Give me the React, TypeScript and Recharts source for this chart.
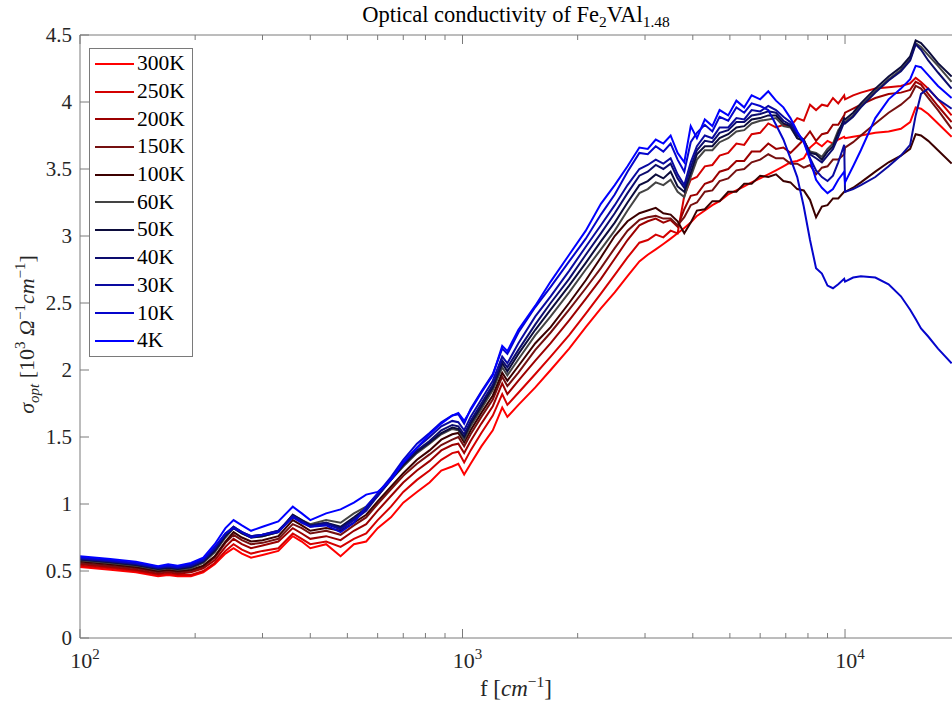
import React from 'react';
import { LineChart, Line, XAxis, YAxis, Legend } from 'recharts';

// wavenumber grid (cm^-1), shared by every temperature
const freqs = [
  100, 120, 140, 160, 170, 180, 195, 210, 225, 240,
  252, 265, 280, 300, 330, 360, 380, 400, 440, 480,
  520, 560, 600, 650, 700, 760, 820, 880, 940, 975,
  1010, 1050, 1120, 1200, 1270, 1310, 1400, 1550, 1700, 1900,
  2100, 2300, 2500, 2700, 2900,
  3050, 3200, 3350, 3500, 3650, 3800, 3950, 4100, 4300, 4500,
  4700, 4950, 5200, 5450, 5700, 6000, 6300, 6600, 6900, 7200,
  7500, 7800, 8100, 8400, 8700, 9000, 9300, 9600, 9950,
  10000, 10500, 11000, 12000, 13000, 14000, 14800, 15300, 15800, 16500, 17500, 19000,
];

// sigma_opt in 10^3 Ohm^-1 cm^-1
const t300K = [
  0.53, 0.51, 0.49, 0.46, 0.47, 0.46, 0.46, 0.49, 0.55, 0.63,
  0.67, 0.63, 0.60, 0.62, 0.65, 0.76, 0.72, 0.67, 0.70, 0.61,
  0.70, 0.72, 0.82, 0.90, 1.01, 1.09, 1.16, 1.25, 1.28, 1.30,
  1.22, 1.30, 1.43, 1.55, 1.72, 1.65, 1.74, 1.87, 2.00, 2.16,
  2.32, 2.46, 2.58, 2.70, 2.81,
  2.86, 2.90, 2.94, 2.98, 3.02, 3.06, 3.10, 3.15, 3.19, 3.23,
  3.26, 3.31, 3.34, 3.37, 3.40, 3.43, 3.46, 3.49, 3.52, 3.55,
  3.56, 3.58, 3.66, 3.70, 3.67, 3.71, 3.69, 3.72, 3.74,
  3.73, 3.74, 3.75, 3.77, 3.78, 3.80, 3.85, 3.96, 3.95, 3.91, 3.84, 3.74,
];
const t250K = [
  0.54, 0.52, 0.50, 0.47, 0.48, 0.47, 0.47, 0.50, 0.56, 0.65,
  0.70, 0.66, 0.63, 0.65, 0.67, 0.78, 0.74, 0.70, 0.72, 0.68,
  0.74, 0.78, 0.88, 0.98, 1.09, 1.18, 1.25, 1.33, 1.38, 1.39,
  1.31, 1.40, 1.53, 1.66, 1.82, 1.74, 1.83, 1.97, 2.10, 2.26,
  2.42, 2.57, 2.71, 2.84, 2.95,
  2.97, 3.01, 2.99, 3.04, 3.02, 3.30, 3.42, 3.44, 3.52, 3.53,
  3.60, 3.62, 3.69, 3.68, 3.76, 3.77, 3.84, 3.81, 3.83, 3.82,
  3.88, 3.86, 3.98, 3.94, 3.98, 3.97, 4.03, 3.99, 4.05,
  4.02, 4.05, 4.07, 4.10, 4.11, 4.12, 4.14, 4.18, 4.15, 4.10, 4.02, 3.90,
];
const t200K = [
  0.55, 0.53, 0.51, 0.48, 0.49, 0.48, 0.49, 0.52, 0.58, 0.68,
  0.74, 0.70, 0.67, 0.69, 0.72, 0.82, 0.78, 0.74, 0.76, 0.73,
  0.80, 0.85, 0.95, 1.06, 1.16, 1.25, 1.32, 1.40, 1.44, 1.45,
  1.38, 1.47, 1.60, 1.73, 1.90, 1.82, 1.92, 2.07, 2.20, 2.37,
  2.53, 2.68, 2.83, 2.97, 3.08,
  3.11, 3.13, 3.10, 3.12, 3.07, 3.20, 3.30, 3.31, 3.39, 3.41,
  3.48, 3.50, 3.56, 3.56, 3.63, 3.63, 3.69, 3.65, 3.66, 3.62,
  3.67, 3.72, 3.78, 3.71, 3.76, 3.77, 3.83, 3.83, 3.90,
  3.92, 3.95, 3.98, 4.03, 4.06, 4.07, 4.09, 4.15, 4.13, 4.06, 3.97, 3.85,
];
const t150K = [
  0.56, 0.54, 0.52, 0.49, 0.50, 0.49, 0.50, 0.53, 0.60, 0.71,
  0.77, 0.73, 0.70, 0.71, 0.74, 0.85, 0.82, 0.78, 0.80, 0.77,
  0.84, 0.90, 1.00, 1.11, 1.21, 1.30, 1.37, 1.44, 1.48, 1.50,
  1.43, 1.52, 1.65, 1.78, 1.95, 1.88, 1.98, 2.15, 2.28, 2.45,
  2.61, 2.76, 2.91, 3.04, 3.12,
  3.14, 3.15, 3.13, 3.13, 3.08, 3.14, 3.23, 3.25, 3.33, 3.34,
  3.41, 3.43, 3.49, 3.50, 3.55, 3.57, 3.61, 3.58, 3.58, 3.54,
  3.54, 3.51, 3.53, 3.46, 3.51, 3.52, 3.57, 3.57, 3.61,
  3.66, 3.70, 3.75, 3.84, 3.92, 3.98, 4.04, 4.12, 4.10, 4.03, 3.94, 3.80,
];
const t100K = [
  0.57, 0.55, 0.53, 0.50, 0.51, 0.50, 0.51, 0.54, 0.61, 0.72,
  0.79, 0.75, 0.72, 0.73, 0.76, 0.88, 0.84, 0.80, 0.82, 0.80,
  0.86, 0.92, 1.02, 1.13, 1.23, 1.33, 1.40, 1.48, 1.52, 1.53,
  1.46, 1.55, 1.68, 1.81, 1.98, 1.92, 2.03, 2.20, 2.32, 2.50,
  2.67, 2.84, 3.00, 3.11, 3.17,
  3.19, 3.21, 3.17, 3.16, 3.11, 3.02, 3.10, 3.19, 3.20, 3.26,
  3.26, 3.33, 3.33, 3.39, 3.39, 3.45, 3.44, 3.46, 3.41, 3.40,
  3.35, 3.34, 3.27, 3.14, 3.22, 3.23, 3.28, 3.28, 3.33,
  3.33, 3.36, 3.40, 3.48, 3.55, 3.60, 3.65, 3.76, 3.75, 3.71, 3.64, 3.54,
];
const t60K = [
  0.58, 0.56, 0.54, 0.51, 0.52, 0.51, 0.52, 0.56, 0.64, 0.75,
  0.82, 0.78, 0.75, 0.76, 0.79, 0.92, 0.88, 0.85, 0.88, 0.86,
  0.93, 0.98, 1.07, 1.18, 1.28, 1.38, 1.45, 1.52, 1.56, 1.55,
  1.48, 1.58, 1.71, 1.85, 2.02, 1.96, 2.08, 2.26, 2.40, 2.58,
  2.75, 2.90, 3.04, 3.19, 3.32,
  3.35, 3.40, 3.38, 3.42, 3.33, 3.29, 3.44, 3.57, 3.64, 3.64,
  3.70, 3.73, 3.78, 3.79, 3.84, 3.86, 3.87, 3.88, 3.82, 3.81,
  3.73, 3.71, 3.63, 3.62, 3.59, 3.65, 3.69, 3.79, 3.85,
  3.85, 3.90, 3.97, 4.08, 4.17, 4.24, 4.32, 4.44, 4.41, 4.35, 4.27, 4.15,
];
const t50K = [
  0.585, 0.565, 0.545, 0.515, 0.525, 0.515, 0.53, 0.57, 0.65, 0.76,
  0.82, 0.78, 0.75, 0.76, 0.79, 0.92, 0.88, 0.84, 0.86, 0.83,
  0.90, 0.97, 1.06, 1.18, 1.29, 1.39, 1.46, 1.53, 1.57, 1.56,
  1.50, 1.60, 1.73, 1.87, 2.05, 1.99, 2.12, 2.30, 2.45, 2.63,
  2.80, 2.96, 3.10, 3.25, 3.38,
  3.41, 3.46, 3.43, 3.48, 3.37, 3.33, 3.47, 3.61, 3.67, 3.67,
  3.73, 3.76, 3.81, 3.82, 3.87, 3.88, 3.90, 3.90, 3.84, 3.82,
  3.73, 3.71, 3.62, 3.61, 3.57, 3.63, 3.67, 3.77, 3.88,
  3.87, 3.92, 3.99, 4.10, 4.19, 4.26, 4.34, 4.46, 4.44, 4.38, 4.29, 4.19,
];
const t40K = [
  0.59, 0.57, 0.55, 0.52, 0.53, 0.52, 0.535, 0.575, 0.66, 0.77,
  0.83, 0.79, 0.76, 0.77, 0.80, 0.91, 0.87, 0.84, 0.86, 0.82,
  0.89, 0.96, 1.06, 1.19, 1.30, 1.40, 1.47, 1.55, 1.59, 1.58,
  1.52, 1.62, 1.75, 1.89, 2.07, 2.02, 2.15, 2.34, 2.50, 2.68,
  2.86, 3.02, 3.17, 3.32, 3.45,
  3.48, 3.53, 3.50, 3.54, 3.43, 3.36, 3.51, 3.64, 3.71, 3.70,
  3.77, 3.79, 3.85, 3.85, 3.90, 3.91, 3.93, 3.92, 3.86, 3.83,
  3.75, 3.72, 3.61, 3.58, 3.55, 3.60, 3.65, 3.74, 3.85,
  3.84, 3.89, 3.96, 4.07, 4.16, 4.23, 4.31, 4.43, 4.39, 4.31, 4.22, 4.10,
];
const t30K = [
  0.595, 0.575, 0.555, 0.525, 0.535, 0.525, 0.54, 0.58, 0.67, 0.78,
  0.83, 0.79, 0.76, 0.77, 0.80, 0.91, 0.87, 0.83, 0.85, 0.81,
  0.88, 0.95, 1.06, 1.18, 1.31, 1.42, 1.50, 1.58, 1.62, 1.61,
  1.55, 1.65, 1.78, 1.92, 2.10, 2.05, 2.20, 2.40, 2.55, 2.74,
  2.92, 3.08, 3.23, 3.38, 3.50,
  3.53, 3.57, 3.54, 3.58, 3.46, 3.38, 3.55, 3.67, 3.75, 3.73,
  3.81, 3.81, 3.88, 3.87, 3.94, 3.93, 3.97, 3.94, 3.89, 3.85,
  3.77, 3.71, 3.58, 3.49, 3.44, 3.41, 3.45, 3.55, 3.68,
  3.33, 3.35, 3.38, 3.44, 3.52, 3.60, 3.68, 3.90, 4.06, 4.10, 4.02, 3.95,
];
const t10K = [
  0.60, 0.58, 0.56, 0.53, 0.54, 0.53, 0.55, 0.59, 0.68, 0.78,
  0.82, 0.79, 0.75, 0.77, 0.79, 0.90, 0.86, 0.83, 0.84, 0.79,
  0.86, 0.98, 1.08, 1.20, 1.33, 1.45, 1.53, 1.61, 1.66, 1.67,
  1.60, 1.71, 1.84, 1.97, 2.16, 2.12, 2.28, 2.47, 2.62, 2.81,
  2.98, 3.16, 3.31, 3.48, 3.62,
  3.61, 3.67, 3.63, 3.69, 3.57, 3.48, 3.70, 3.77, 3.83, 3.78,
  3.89, 3.86, 3.96, 3.92, 3.99, 3.97, 3.94, 3.83, 3.72, 3.58,
  3.44, 3.22, 2.97, 2.76, 2.72, 2.63, 2.61, 2.64, 2.68,
  2.66, 2.69, 2.70, 2.69, 2.64, 2.55, 2.45, 2.38, 2.31, 2.25, 2.16, 2.05,
];
const t4K = [
  0.61, 0.59, 0.57, 0.535, 0.55, 0.54, 0.56, 0.60, 0.70, 0.82,
  0.88, 0.84, 0.80, 0.83, 0.87, 0.98, 0.93, 0.88, 0.93, 0.96,
  1.01, 1.07, 1.09, 1.18, 1.31, 1.42, 1.52, 1.60, 1.66, 1.68,
  1.62, 1.70, 1.83, 1.96, 2.18, 2.14, 2.30, 2.48, 2.66, 2.86,
  3.04, 3.24, 3.38, 3.52, 3.66,
  3.65, 3.72, 3.69, 3.75, 3.62, 3.55, 3.82, 3.73, 3.87, 3.82,
  3.94, 3.90, 4.01, 3.96, 4.05, 4.02, 4.08, 4.01, 3.96, 3.88,
  3.78, 3.70, 3.57, 3.42, 3.36, 3.32, 3.35, 3.42, 3.48,
  3.40, 3.52, 3.64, 3.88, 4.02, 4.10, 4.17, 4.27, 4.26, 4.20, 4.12, 4.03,
];

const series = [
  { key: 's300', name: '300K', color: '#ff0000', values: t300K },
  { key: 's250', name: '250K', color: '#d40000', values: t250K },
  { key: 's200', name: '200K', color: '#9c0000', values: t200K },
  { key: 's150', name: '150K', color: '#751010', values: t150K },
  { key: 's100', name: '100K', color: '#3c0000', values: t100K },
  { key: 's60', name: '60K', color: '#444444', values: t60K },
  { key: 's50', name: '50K', color: '#0c0c3c', values: t50K },
  { key: 's40', name: '40K', color: '#0c0c6e', values: t40K },
  { key: 's30', name: '30K', color: '#0a0aa0', values: t30K },
  { key: 's10', name: '10K', color: '#0505cc', values: t10K },
  { key: 's4', name: '4K', color: '#0000ff', values: t4K },
];

const yTicks = [0, 0.5, 1, 1.5, 2, 2.5, 3, 3.5, 4, 4.5];
const xTicks = [
  100, 200, 300, 400, 500, 600, 700, 800, 900,
  1000, 2000, 3000, 4000, 5000, 6000, 7000, 8000, 9000, 10000,
];
const majorTicks = [100, 1000, 10000];

const rows = freqs.map((f, i) => {
  const r: any = { f };
  series.forEach((s) => {
    r[s.key] = s.values[i];
  });
  return r;
});

const FONT = '"Liberation Serif", "Times New Roman", serif';
const AXIS = '#7a7a7a';
const TXT = '#262626';

const BottomTick = (props: any) => {
  const { x, y, payload } = props;
  const v = payload.value;
  const major = majorTicks.includes(v);
  return (
    <g>
      <line x1={x} x2={x} y1={y} y2={y - (major ? 9 : 5)} stroke={AXIS} />
      {major && (
        <text x={x + 5} y={y + 30} textAnchor="middle" fontFamily={FONT} fontSize={22} fill={TXT}>
          10
          <tspan dy={-9} fontSize={15}>
            {Math.round(Math.log10(v))}
          </tspan>
        </text>
      )}
    </g>
  );
};

const TopTick = (props: any) => {
  const { x, y, payload } = props;
  const major = majorTicks.includes(payload.value);
  return <line x1={x} x2={x} y1={y} y2={y + (major ? 9 : 5)} stroke={AXIS} />;
};

const LeftTick = (props: any) => {
  const { x, y, payload } = props;
  return (
    <g>
      <line x1={x} x2={x + 9} y1={y} y2={y} stroke={AXIS} />
      <text x={x - 8} y={y} dy="0.35em" textAnchor="end" fontFamily={FONT} fontSize={21} fill={TXT}>
        {payload.value}
      </text>
    </g>
  );
};

const TitleLabel = (props: any) => {
  const vb = props.viewBox || { x: 80, y: 5, width: 872, height: 30 };
  return (
    <text x={vb.x + vb.width / 2} y={22} textAnchor="middle" fontFamily={FONT} fontSize={22.5} fill="#000">
      Optical conductivity of Fe
      <tspan dy={5} fontSize={15.5}>2</tspan>
      <tspan dy={-5}>VAl</tspan>
      <tspan dy={5} fontSize={15.5}>1.48</tspan>
    </text>
  );
};

const XLabel = (props: any) => {
  const vb = props.viewBox || { x: 80, y: 638, width: 872, height: 64 };
  return (
    <text x={vb.x + vb.width / 2} y={vb.y + 58} textAnchor="middle" fontFamily={FONT} fontSize={23} fill={TXT}>
      {'f ['}
      <tspan fontStyle="italic">cm</tspan>
      <tspan dy={-9} fontSize={15.5}>−1</tspan>
      <tspan dy={9}>]</tspan>
    </text>
  );
};

const YLabel = (props: any) => {
  const vb = props.viewBox || { x: 0, y: 35, width: 80, height: 603 };
  const cx = 34;
  const cy = vb.y + vb.height / 2 - 2;
  return (
    <text
      x={cx}
      y={cy}
      transform={`rotate(-90, ${cx}, ${cy})`}
      textAnchor="middle"
      fontFamily={FONT}
      fontSize={22}
      fill={TXT}
    >
      <tspan fontStyle="italic">σ</tspan>
      <tspan dy={5} fontSize={15} fontStyle="italic">opt</tspan>
      <tspan dy={-5}>{' [10'}</tspan>
      <tspan dy={-9} fontSize={15}>3</tspan>
      <tspan dy={9}>{' '}</tspan>
      <tspan fontStyle="italic">Ω</tspan>
      <tspan dy={-9} fontSize={15}>−1</tspan>
      <tspan dy={9} fontStyle="italic">cm</tspan>
      <tspan dy={-9} fontSize={15}>−1</tspan>
      <tspan dy={9}>]</tspan>
    </text>
  );
};

const LegendBox = () => (
  <div
    style={{
      width: 104,
      height: 309,
      border: `1px solid ${AXIS}`,
      background: '#fff',
      boxSizing: 'border-box',
      paddingTop: 1,
    }}
  >
    {series.map((s) => (
      <div key={s.key} style={{ display: 'flex', alignItems: 'center', height: 27.7 }}>
        <span
          style={{
            display: 'inline-block',
            width: 39,
            height: 0,
            borderTop: `2px solid ${s.color}`,
            marginLeft: 5,
            marginRight: 3,
          }}
        />
        <span style={{ fontFamily: FONT, fontSize: 21.5, color: '#000', lineHeight: '21px' }}>{s.name}</span>
      </div>
    ))}
  </div>
);

export default function App() {
  return (
    <div style={{ position: 'absolute', left: 0, top: 0, width: 952, height: 702, background: '#fff' }}>
      <LineChart width={952} height={702} data={rows} margin={{ top: 5, right: 0, bottom: 0, left: 0 }}>
        <XAxis
          xAxisId="b"
          dataKey="f"
          type="number"
          scale="log"
          domain={[100, 19040]}
          allowDataOverflow
          ticks={xTicks}
          interval={0}
          height={64}
          tickLine={false}
          tickSize={0}
          tickMargin={0}
          axisLine={{ stroke: AXIS }}
          tick={<BottomTick />}
          label={(p: any) => <XLabel {...p} />}
        />
        <XAxis
          xAxisId="t"
          orientation="top"
          dataKey="f"
          type="number"
          scale="log"
          domain={[100, 19040]}
          allowDataOverflow
          ticks={xTicks}
          interval={0}
          height={30}
          tickLine={false}
          tickSize={0}
          tickMargin={0}
          axisLine={{ stroke: AXIS }}
          tick={<TopTick />}
          label={(p: any) => <TitleLabel {...p} />}
        />
        <YAxis
          type="number"
          domain={[0, 4.5]}
          allowDataOverflow
          ticks={yTicks}
          interval={0}
          width={80}
          tickLine={false}
          tickSize={0}
          tickMargin={0}
          axisLine={{ stroke: AXIS }}
          tick={<LeftTick />}
          label={(p: any) => <YLabel {...p} />}
        />
        <Legend
          layout="vertical"
          align="center"
          verticalAlign="middle"
          wrapperStyle={{ left: 89, top: 48, width: 'auto', height: 'auto' }}
          content={() => <LegendBox />}
        />
        {series.map((s) => (
          <Line
            key={s.key}
            xAxisId="b"
            type="linear"
            dataKey={s.key}
            name={s.name}
            stroke={s.color}
            strokeWidth={2}
            dot={false}
            isAnimationActive={false}
          />
        ))}
      </LineChart>
    </div>
  );
}
